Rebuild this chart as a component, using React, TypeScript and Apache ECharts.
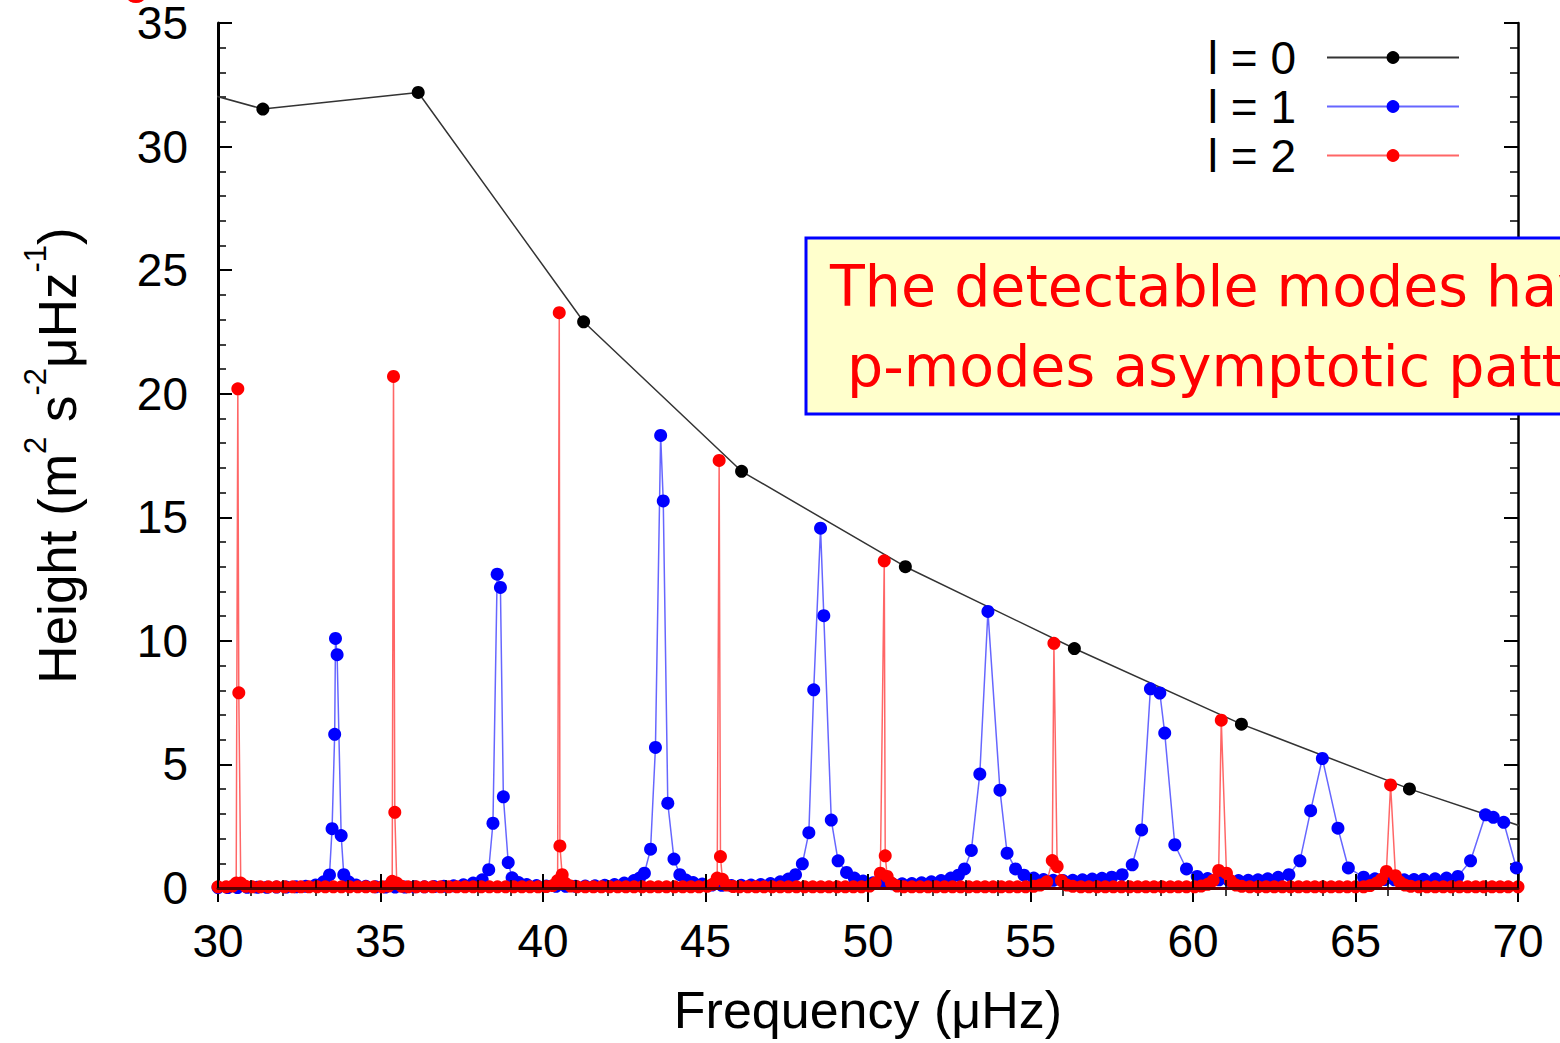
import React, { useEffect, useRef } from "react";
import * as echarts from "echarts";

// ---- data (frequency in µHz, height in m^2 s^-2 µHz^-1) ----
const xTicks = [30, 35, 40, 45, 50, 55, 60, 65, 70];
const yTicks = [0, 5, 10, 15, 20, 25, 30, 35];
const seriesNames = ["l = 0", "l = 1", "l = 2"];

const l0Freq = [26.3, 31.38, 36.16, 41.25, 46.11, 51.15, 56.35, 61.49, 66.66, 71.8];
const l0Height = [33.36, 31.52, 32.19, 22.91, 16.86, 13.0, 9.69, 6.63, 4.01, 1.75];

const l1Freq = [
  30.0, 30.3, 30.6, 30.9, 31.2, 31.5, 31.8, 32.1, 32.4, 32.7, 33.0, 33.25,
  33.43, 33.51, 33.59, 33.615, 33.665, 33.79, 33.87,
  34.02, 34.25, 34.55, 34.85, 35.15, 35.45, 35.75, 36.05, 36.35, 36.65, 36.95, 37.25, 37.55, 37.85,
  38.13, 38.33, 38.46, 38.59, 38.69, 38.78, 38.93, 39.05,
  39.25, 39.5, 39.8, 40.1, 40.4, 40.7, 41.0, 41.3, 41.6, 41.9, 42.2, 42.5, 42.8, 42.97,
  43.12, 43.31, 43.46, 43.62, 43.7, 43.84, 44.03, 44.21,
  44.4, 44.62, 44.9, 45.2, 45.5, 45.8, 46.1, 46.4, 46.7, 47.0, 47.3, 47.55,
  47.77, 47.98, 48.18, 48.33, 48.54, 48.64, 48.87, 49.08, 49.34,
  49.58, 49.85, 50.15, 50.45, 50.75, 51.05, 51.35, 51.65, 51.95, 52.25, 52.55, 52.78,
  52.97, 53.18, 53.44, 53.69, 54.06, 54.28, 54.54,
  54.8, 55.1, 55.4, 55.7, 56.0, 56.3, 56.6, 56.9, 57.2, 57.5,
  57.82, 58.13, 58.42, 58.69, 58.98, 59.13, 59.44, 59.8, 60.13,
  60.45, 60.8, 61.1, 61.4, 61.7, 62.0, 62.3, 62.62,
  62.95, 63.29, 63.62, 63.98, 64.46, 64.78, 65.25,
  65.6, 65.9, 66.2, 66.5, 66.8, 67.1, 67.45, 67.8,
  68.15, 68.54, 69.0, 69.24, 69.56, 69.95, 70.3,
];
const l1Height = [
  0.02, 0.02, 0.02, 0.03, 0.03, 0.03, 0.04, 0.04, 0.05, 0.07, 0.12, 0.25,
  0.53, 2.4, 6.22, 10.1, 9.44, 2.12, 0.54,
  0.25, 0.12, 0.07, 0.05, 0.04, 0.04, 0.04, 0.05, 0.05, 0.06, 0.07, 0.09, 0.13, 0.2,
  0.33, 0.74, 2.62, 12.7, 12.16, 3.69, 1.03, 0.41,
  0.22, 0.14, 0.1, 0.08, 0.07, 0.07, 0.07, 0.08, 0.09, 0.11, 0.14, 0.2, 0.3, 0.4,
  0.6, 1.57, 5.69, 18.31, 15.66, 3.43, 1.17, 0.54,
  0.32, 0.22, 0.16, 0.12, 0.11, 0.1, 0.11, 0.12, 0.14, 0.18, 0.25, 0.36,
  0.54, 0.98, 2.24, 8.02, 14.56, 11.02, 2.75, 1.1, 0.63,
  0.4, 0.28, 0.21, 0.18, 0.17, 0.17, 0.18, 0.21, 0.25, 0.3, 0.4, 0.52,
  0.77, 1.52, 4.61, 11.19, 3.96, 1.41, 0.77,
  0.52, 0.4, 0.34, 0.31, 0.3, 0.31, 0.33, 0.36, 0.39, 0.44,
  0.54, 0.94, 2.35, 8.06, 7.89, 6.27, 1.75, 0.77, 0.47,
  0.38, 0.33, 0.31, 0.3, 0.31, 0.33, 0.37, 0.43,
  0.54, 1.1, 3.13, 5.24, 2.42, 0.81, 0.44,
  0.37, 0.34, 0.33, 0.33, 0.34, 0.35, 0.37, 0.4,
  0.47, 1.1, 2.96, 2.86, 2.66, 0.81, 0.45,
];

const l2Freq = [
  30.0, 30.25, 30.45, 30.56, 30.61, 30.64, 30.7, 30.85,
  31.05, 31.3, 31.55, 31.8, 32.05, 32.3, 32.55, 32.8, 33.05, 33.3, 33.55, 33.8, 34.05, 34.3, 34.55, 34.8, 35.05,
  35.25, 35.36, 35.4, 35.44, 35.5, 35.65,
  35.85, 36.1, 36.35, 36.6, 36.85, 37.1, 37.35, 37.6, 37.85, 38.1, 38.35, 38.6, 38.85, 39.1, 39.35, 39.6, 39.85,
  40.1, 40.3, 40.45, 40.5, 40.52, 40.59, 40.68, 40.85,
  41.05, 41.3, 41.55, 41.8, 42.05, 42.3, 42.55, 42.8, 43.05, 43.3, 43.55, 43.8, 44.05, 44.3, 44.55, 44.8,
  45.05, 45.22, 45.36, 45.42, 45.46, 45.52, 45.65, 45.85,
  46.05, 46.3, 46.55, 46.8, 47.05, 47.3, 47.55, 47.8, 48.05, 48.3, 48.55, 48.8, 49.05, 49.3, 49.55, 49.8,
  50.05, 50.22, 50.38, 50.5, 50.53, 50.59, 50.72, 50.9,
  51.1, 51.35, 51.6, 51.85, 52.1, 52.35, 52.6, 52.85, 53.1, 53.35, 53.6, 53.85, 54.1, 54.35, 54.6, 54.85,
  55.1, 55.3, 55.5, 55.67, 55.72, 55.82, 55.95, 56.12, 56.3,
  56.55, 56.8, 57.05, 57.3, 57.55, 57.8, 58.05, 58.3, 58.55, 58.8, 59.05, 59.3, 59.55, 59.8, 60.05,
  60.25, 60.45, 60.62, 60.79, 60.87, 61.03, 61.15, 61.32, 61.5,
  61.75, 62.0, 62.25, 62.5, 62.75, 63.0, 63.25, 63.5, 63.75, 64.0, 64.25, 64.5, 64.75, 65.0, 65.25,
  65.45, 65.65, 65.8, 65.95, 66.08, 66.23, 66.36, 66.52, 66.7,
  66.95, 67.2, 67.45, 67.7, 67.95, 68.2, 68.45, 68.7, 68.95, 69.2, 69.45, 69.7, 70.0,
];
const l2Height = [
  0.05, 0.05, 0.08, 0.2, 20.2, 7.9, 0.2, 0.07,
  0.05, 0.05, 0.05, 0.05, 0.05, 0.05, 0.05, 0.05, 0.05, 0.05, 0.05, 0.05, 0.05, 0.05, 0.05, 0.05, 0.05,
  0.08, 0.27, 20.7, 3.06, 0.2, 0.07,
  0.05, 0.05, 0.05, 0.05, 0.05, 0.05, 0.05, 0.05, 0.05, 0.05, 0.05, 0.05, 0.05, 0.05, 0.05, 0.05, 0.05,
  0.06, 0.1, 0.3, 23.28, 1.7, 0.54, 0.2, 0.08,
  0.05, 0.05, 0.05, 0.05, 0.05, 0.05, 0.05, 0.05, 0.05, 0.05, 0.05, 0.05, 0.05, 0.05, 0.05, 0.05,
  0.07, 0.15, 0.4, 17.3, 1.27, 0.35, 0.12, 0.06,
  0.05, 0.05, 0.05, 0.05, 0.05, 0.05, 0.05, 0.05, 0.05, 0.05, 0.05, 0.05, 0.05, 0.05, 0.05, 0.05,
  0.08, 0.2, 0.6, 13.24, 1.3, 0.47, 0.2, 0.08,
  0.05, 0.05, 0.05, 0.05, 0.05, 0.05, 0.05, 0.05, 0.05, 0.05, 0.05, 0.05, 0.05, 0.05, 0.05, 0.05,
  0.07, 0.12, 0.25, 1.11, 9.9, 0.87, 0.3, 0.12, 0.07,
  0.05, 0.05, 0.05, 0.05, 0.05, 0.05, 0.05, 0.05, 0.05, 0.05, 0.05, 0.05, 0.05, 0.05, 0.05,
  0.08, 0.15, 0.3, 0.71, 6.79, 0.6, 0.3, 0.12, 0.07,
  0.05, 0.05, 0.05, 0.05, 0.05, 0.05, 0.05, 0.05, 0.05, 0.05, 0.05, 0.05, 0.05, 0.05, 0.05,
  0.1, 0.2, 0.35, 0.67, 4.17, 0.5, 0.25, 0.12, 0.07,
  0.05, 0.05, 0.05, 0.05, 0.05, 0.05, 0.05, 0.05, 0.05, 0.05, 0.05, 0.05, 0.05,
];

const annotationLines = ["The detectable modes have a", "p-modes asymptotic pattern"];

const pairs = (xs: number[], ys: number[]) => xs.map((x, i) => [x, ys[i]]);

const FONT = "'Liberation Sans', Arial, Helvetica, sans-serif";
const ANNOT_FONT = "'Comic Sans MS', 'DejaVu Sans', sans-serif";
const DOT = 13;

export default function App() {
  const ref = useRef<HTMLDivElement>(null);

  useEffect(() => {
    if (!ref.current) return;
    const chart = echarts.init(ref.current, undefined, { renderer: "svg" });

    const tickCommon = {
      axisTick: { show: true, inside: true, length: 14, lineStyle: { color: "#000", width: 2 } },
      minorTick: { show: true, splitNumber: 5, length: 8, lineStyle: { color: "#000", width: 1.5 } },
      splitLine: { show: false },
    };

    const option: any = {
      animation: false,
      backgroundColor: "#ffffff",
      textStyle: { fontFamily: FONT },
      grid: { left: 218, right: 42, top: 20, bottom: 155 },
      legend: {
        data: seriesNames,
        orient: "vertical",
        right: 100,
        top: 33,
        padding: 0,
        align: "right",
        itemWidth: 132,
        itemHeight: 16,
        itemGap: 0,
        textStyle: { fontSize: 46, color: "#000", fontFamily: FONT, lineHeight: 49, padding: [0, 26, 0, 0] },
      },
      xAxis: [
        {
          type: "value",
          min: xTicks[0],
          max: xTicks[xTicks.length - 1],
          interval: 5,
          position: "bottom",
          z: 5,
          axisLine: { show: true, lineStyle: { color: "#5a0000", width: 3 } },
          ...tickCommon,
          axisLabel: { fontSize: 46, color: "#000", margin: 30, fontFamily: FONT },
          name: "Frequency (μHz)",
          nameLocation: "middle",
          nameGap: 96,
          nameTextStyle: { fontSize: 52, color: "#000", fontFamily: FONT },
        },
        {
          type: "value",
          min: xTicks[0],
          max: xTicks[xTicks.length - 1],
          interval: 5,
          position: "top",
          axisLine: { show: true, lineStyle: { color: "#000", width: 2.5 } },
          ...tickCommon,
          axisLabel: { show: false },
        },
      ],
      yAxis: [
        {
          type: "value",
          min: yTicks[0],
          max: yTicks[yTicks.length - 1],
          interval: 5,
          position: "left",
          axisLine: { show: true, lineStyle: { color: "#000", width: 3 } },
          ...tickCommon,
          axisLabel: { fontSize: 46, lineHeight: 34, color: "#000", margin: 30, fontFamily: FONT },
          name: "{b|Height (m}{sup|2}{b| s}{sup|-2}{b|μHz}{sup|-1}{b|)}",
          nameLocation: "middle",
          nameGap: 134,
          nameTextStyle: {
            fontSize: 53,
            color: "#000",
            fontFamily: FONT,
            rich: {
              b: { fontSize: 53, lineHeight: 64, verticalAlign: "bottom", fontFamily: FONT, color: "#000" },
              sup: { fontSize: 31, lineHeight: 32, verticalAlign: "top", fontFamily: FONT, color: "#000" },
            },
          },
        },
        {
          type: "value",
          min: yTicks[0],
          max: yTicks[yTicks.length - 1],
          interval: 5,
          position: "right",
          axisLine: { show: true, lineStyle: { color: "#000", width: 2.5 } },
          ...tickCommon,
          axisLabel: { show: false },
        },
      ],
      series: [
        {
          name: seriesNames[0],
          type: "line",
          data: pairs(l0Freq, l0Height),
          symbol: "circle",
          symbolSize: DOT,
          showAllSymbol: true,
          clip: true,
          itemStyle: { color: "#000000" },
          lineStyle: { color: "#333333", width: 1.5 },
          z: 2,
        },
        {
          name: seriesNames[1],
          type: "line",
          data: pairs(l1Freq, l1Height),
          symbol: "circle",
          symbolSize: DOT,
          showAllSymbol: true,
          clip: true,
          itemStyle: { color: "#0000ff" },
          lineStyle: { color: "rgba(0,0,255,0.6)", width: 1.5 },
          z: 3,
        },
        {
          name: seriesNames[2],
          type: "line",
          data: pairs(l2Freq, l2Height),
          symbol: "circle",
          symbolSize: DOT,
          showAllSymbol: true,
          clip: true,
          itemStyle: { color: "#ff0000" },
          lineStyle: { color: "rgba(255,0,0,0.6)", width: 1.5 },
          z: 4,
        },
      ],
      graphic: [
        {
          type: "rect",
          z: 100,
          shape: { x: 806, y: 238, width: 820, height: 176 },
          style: { fill: "#ffffcc", stroke: "#0000ff", lineWidth: 3 },
        },
        {
          type: "text",
          z: 101,
          x: 830,
          y: 286,
          style: {
            text: annotationLines[0],
            font: `57px ${ANNOT_FONT}`,
            fill: "#ff0000",
            textAlign: "left",
            textVerticalAlign: "middle",
          },
        },
        {
          type: "text",
          z: 101,
          x: 847,
          y: 366,
          style: {
            text: annotationLines[1],
            font: `57px ${ANNOT_FONT}`,
            fill: "#ff0000",
            textAlign: "left",
            textVerticalAlign: "middle",
          },
        },
        {
          type: "circle",
          z: 101,
          shape: { cx: 136, cy: -9, r: 12 },
          style: { fill: "#ff0000" },
        },
      ],
    };

    chart.setOption(option);
    return () => chart.dispose();
  }, []);

  return (
    <div
      ref={ref}
      style={{ position: "fixed", left: 0, top: 0, width: 1560, height: 1043, background: "#fff" }}
    />
  );
}
